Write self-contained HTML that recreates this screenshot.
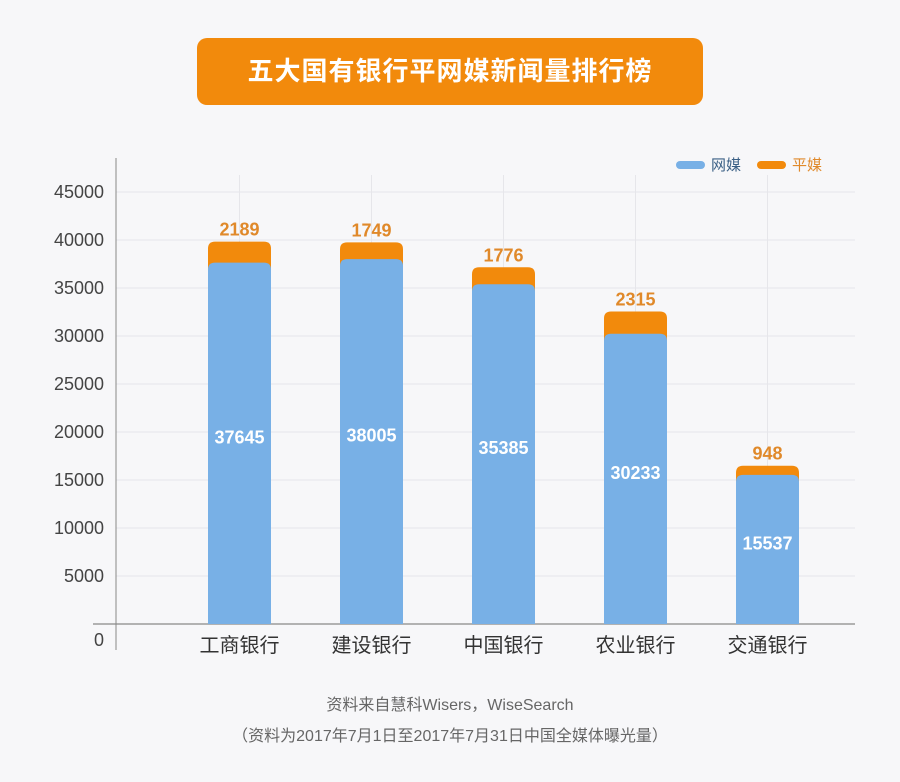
<!DOCTYPE html>
<html><head><meta charset="utf-8"><style>
body{margin:0;background:#f7f7f9;font-family:"Liberation Sans","Noto Sans CJK SC",sans-serif;}
#wrap{position:relative;width:900px;height:782px;overflow:hidden;background:#f7f7f9;}
#title{position:absolute;left:197px;top:38px;width:506px;height:67px;background:#f28a0c;border-radius:10px;color:#fff;font-size:26px;font-weight:bold;text-align:center;line-height:67px;letter-spacing:1px;}
.foot{position:absolute;left:0;width:900px;text-align:center;color:#666;font-size:16px;}
</style></head><body>
<div id="wrap">
<div id="title">五大国有银行平网媒新闻量排行榜</div>
<svg id="chart" width="900" height="782" style="position:absolute;left:0;top:0"></svg>
<div class="foot" style="top:691px">资料来自慧科Wisers，WiseSearch</div>
<div class="foot" style="top:722px">（资料为2017年7月1日至2017年7月31日中国全媒体曝光量）</div>
</div>
<script>
const categories=["工商银行","建设银行","中国银行","农业银行","交通银行"];
const webValues=[37645,38005,35385,30233,15537];
const printValues=[2189,1749,1776,2315,948];
const yTicks=[5000,10000,15000,20000,25000,30000,35000,40000,45000];
const NS="http://www.w3.org/2000/svg";
const svg=document.getElementById('chart');
const y0=624,pxPer=(624-192)/45000;
function y(v){return y0-v*pxPer;}
function x(i){return 239.5+i*132;}
const bw=63;
function mk(t,a,p){const e=document.createElementNS(NS,t);for(const k in a)e.setAttribute(k,a[k]);(p||svg).appendChild(e);return e;}
yTicks.forEach(v=>{
  const l=mk('line',{x1:116,x2:855,y1:y(v),y2:y(v),stroke:'#e6e6ea','stroke-width':1});
  
  
  const t=mk('text',{x:104,y:y(v)+6,'text-anchor':'end','font-size':18,fill:'#444'});
  t.textContent=v;
  
  
});
categories.forEach((c,i)=>{
  const l=mk('line',{x1:x(i),x2:x(i),y1:175,y2:y0,stroke:'#e6e6ea','stroke-width':1});
  
  
});
const z=mk('text',{x:104,y:646,'text-anchor':'end','font-size':18,fill:'#444'});z.textContent='0';


let ax=mk('line',{x1:116,x2:116,y1:158,y2:650,stroke:'#888','stroke-width':1});


ax=mk('line',{x1:93,x2:855,y1:y0,y2:y0,stroke:'#888','stroke-width':1.2});


function topRounded(xl,yt,w,yb,r){return `M${xl},${yb}V${yt+r}Q${xl},${yt} ${xl+r},${yt}H${xl+w-r}Q${xl+w},${yt} ${xl+w},${yt+r}V${yb}Z`;}
categories.forEach((c,i)=>{
  const xl=x(i)-bw/2, wt=y(webValues[i]), tt=y(webValues[i]+printValues[i]);
  const o=mk('path',{d:topRounded(xl,tt,bw,wt+10,7),fill:'#f28a0c'});
  
  
  const b=mk('path',{d:topRounded(xl,wt,bw,y0,7),fill:'#78b0e6'});
  
  
  const pl=mk('text',{x:x(i),y:tt-6,'text-anchor':'middle','font-size':18,'font-weight':'bold',fill:'#e0892a'});
  pl.textContent=printValues[i];
  
  
  const wl=mk('text',{x:x(i),y:(wt+y0)/2,'text-anchor':'middle','font-size':18,'font-weight':'bold',fill:'#fff'});
  wl.textContent=webValues[i];
  
  
  const cl=mk('text',{x:x(i),y:652,'text-anchor':'middle','font-size':20,fill:'#333'});
  cl.textContent=c;
  
  
});
let r=mk('rect',{x:676,y:161,width:29,height:8,rx:4,fill:'#78b0e6'});


let t=mk('text',{x:711,y:170,'font-size':15,fill:'#3a5f85'});t.textContent='网媒';


r=mk('rect',{x:757,y:161,width:29,height:8,rx:4,fill:'#f28a0c'});


t=mk('text',{x:792,y:170,'font-size':15,fill:'#e0892a'});t.textContent='平媒';


</script>
</body></html>
